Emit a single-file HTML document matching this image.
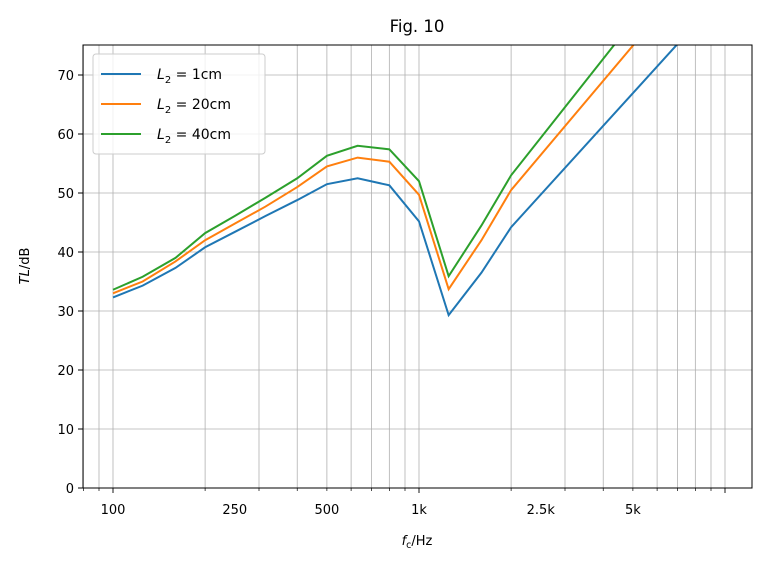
<!DOCTYPE html>
<html><head><meta charset="utf-8"><style>
body{margin:0;background:#fff;}
svg text{font-family:"DejaVu Sans","Liberation Sans",sans-serif;fill:#000;}
</style></head><body>
<svg id="s" width="766" height="566" xmlns="http://www.w3.org/2000/svg">
<defs><clipPath id="c"><rect x="83" y="45" width="669" height="443"/></clipPath></defs>
<g id="grid"></g>
<g id="lines" clip-path="url(#c)"></g>
<rect x="83" y="45" width="669" height="443" fill="none" stroke="#000" stroke-width="1"/>
<g id="ticks"></g>
<text x="417" y="32" font-size="16.5" text-anchor="middle">Fig. 10</text>
<text x="417" y="545" font-size="13" text-anchor="middle"><tspan font-style="italic">f</tspan><tspan font-size="9.5" dy="3">c</tspan><tspan dy="-3">/Hz</tspan></text>
<text transform="translate(29,266) rotate(-90)" font-size="13" text-anchor="middle"><tspan font-style="italic">TL</tspan>/dB</text>
<g>
<rect x="93" y="54" width="172" height="100" rx="3" fill="#fff" fill-opacity="0.8" stroke="#ccc"/>
<line x1="101" y1="74" x2="141" y2="74" stroke="#1f77b4" stroke-width="2"/>
<line x1="101" y1="104" x2="141" y2="104" stroke="#ff7f0e" stroke-width="2"/>
<line x1="101" y1="134" x2="141" y2="134" stroke="#2ca02c" stroke-width="2"/>
<text x="157" y="79" font-size="14"><tspan font-style="italic">L</tspan><tspan font-size="10" dy="4">2</tspan><tspan dy="-4"> = 1cm</tspan></text>
<text x="157" y="109" font-size="14"><tspan font-style="italic">L</tspan><tspan font-size="10" dy="4">2</tspan><tspan dy="-4"> = 20cm</tspan></text>
<text x="157" y="139" font-size="14"><tspan font-style="italic">L</tspan><tspan font-size="10" dy="4">2</tspan><tspan dy="-4"> = 40cm</tspan></text>
</g>
</svg>
<script>
var X=f=>113+306*Math.log10(f/100), Y=v=>488-5.9*v;
var g='',t='';
var fs=[80,90];for(var d=100;d<=10000;d*=10)for(var k=1;k<10;k++)fs.push(d*k);
fs.forEach(f=>{var x=X(f);if(x>83&&x<752){g+=`<line x1="${x}" y1="45" x2="${x}" y2="488" stroke="#b0b0b0" stroke-width="0.8"/>`;
var maj=(f==100||f==1000||f==10000);t+=`<line x1="${x}" y1="488" x2="${x}" y2="${488+(maj?5:3)}" stroke="#000" stroke-width="${maj?0.9:0.7}"/>`;}});
for(var v=0;v<=70;v+=10){var y=Y(v);g+=`<line x1="83" y1="${y}" x2="752" y2="${y}" stroke="#b0b0b0" stroke-width="0.8"/>`;
t+=`<line x1="78" y1="${y}" x2="83" y2="${y}" stroke="#000"/><text x="74" y="${y+5}" font-size="13" text-anchor="end">${v}</text>`;}
[[100,'100'],[250,'250'],[500,'500'],[1000,'1k'],[2500,'2.5k'],[5000,'5k']].forEach(a=>{t+=`<text x="${X(a[0])}" y="514" font-size="13" text-anchor="middle">${a[1]}</text>`;});
document.getElementById('grid').innerHTML=g;document.getElementById('ticks').innerHTML=t;
var F=[100,125,160,200,250,315,400,500,630,800,1000,1250,1600,2000,20000];
var S=[['#1f77b4',[32.3,34.3,37.3,40.8,43.4,46.1,48.8,51.5,52.5,51.3,45.2,29.3,36.5,44.2,101.3]],
['#ff7f0e',[33,35,38.4,42,44.8,47.7,51,54.5,56,55.3,49.7,33.7,42,50.5,112]],
['#2ca02c',[33.6,35.8,39,43.2,46.1,49.2,52.5,56.3,58,57.4,52,35.9,44.5,53,118.6]]];
var l='';S.forEach(s=>{l+=`<polyline fill="none" stroke="${s[0]}" stroke-width="2" points="${F.map((f,i)=>X(f)+','+Y(s[1][i])).join(' ')}"/>`;});
document.getElementById('lines').innerHTML=l;
</script>
</body></html>
